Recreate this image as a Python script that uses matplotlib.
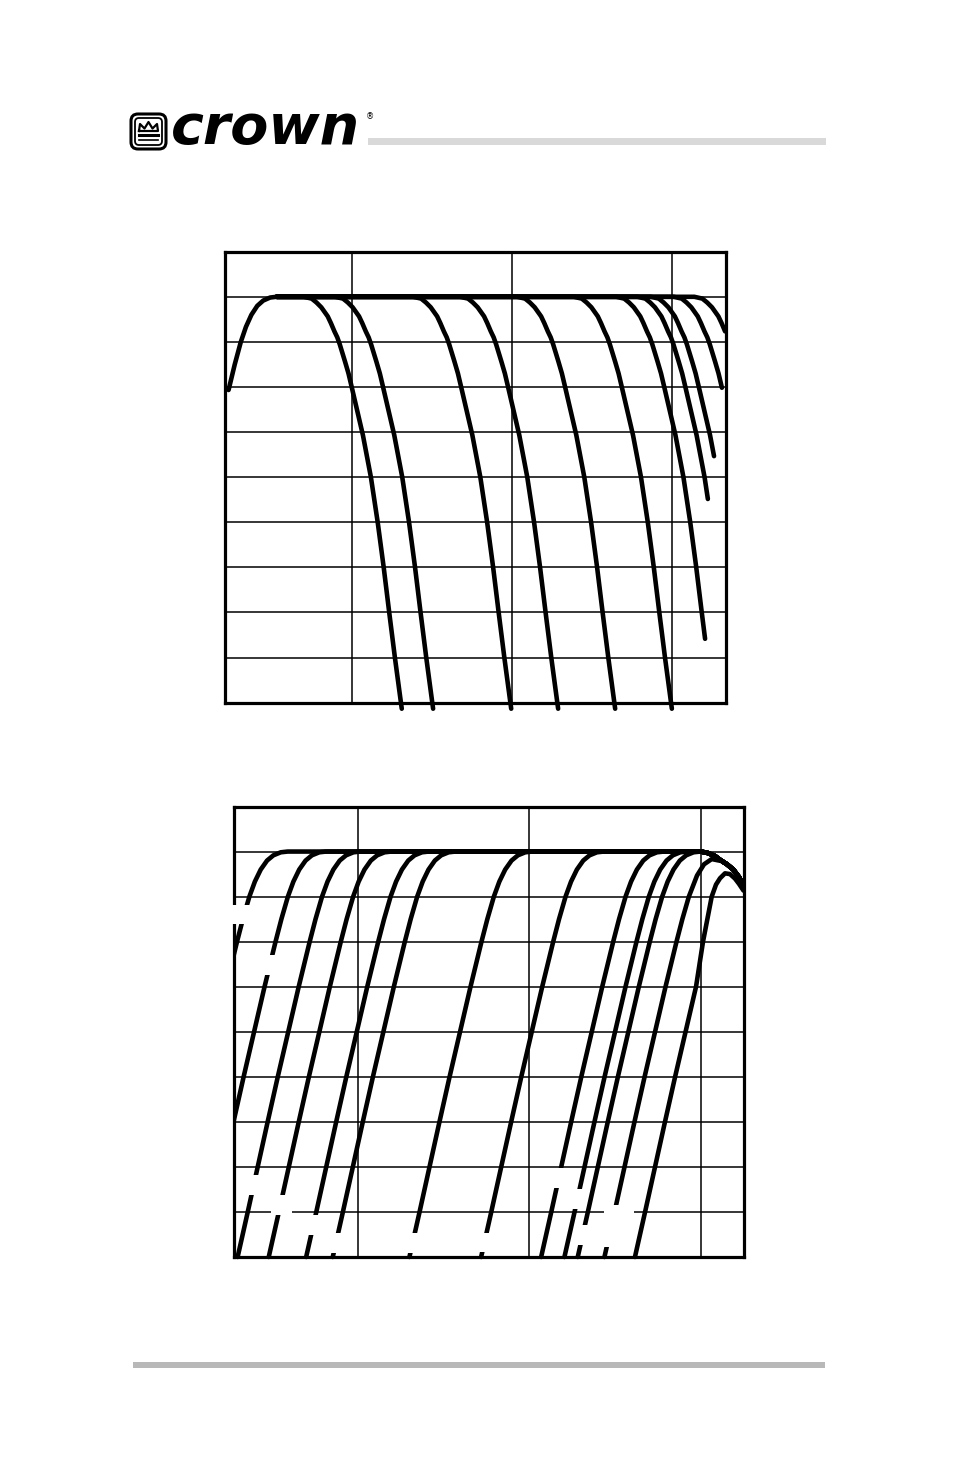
import numpy as np
import matplotlib
matplotlib.use("Agg")
import matplotlib.pyplot as plt
from matplotlib.patches import Rectangle, FancyBboxPatch
from matplotlib.ticker import FixedLocator, NullLocator

# ---------------- data ----------------
decade_grid = [100, 1000, 10000]                      # vertical grid (Hz)
level_grid = [-24, -21, -18, -15, -12, -9, -6, -3, 0]  # horizontal grid (dB)
level_limits = [-27, 3]

# upper chart (low-pass family)
top_xlim = [16.15, 21680]
# slope shape of the low-pass traces, read off the leftmost one:
# offset from the trace's -6 dB frequency (decades) and level (dB)
lp_shape_dec = [-0.30, -0.25, -0.22, -0.19, -0.15, -0.13, -0.108, -0.09, -0.075, -0.042,
                -0.02, 0.0, 0.035, 0.07, 0.12, 0.1625, 0.20, 0.2345, 0.27, 0.309, 0.34]
lp_shape_db = [0.0, -0.12, -0.38, -0.7, -1.3, -1.75, -2.3, -2.7, -3.15, -4.3,
               -5.1, -6.0, -7.6, -9.2, -12.0, -15.0, -18.0, -21.0, -24.0, -27.1, -29.5]
lp_f6 = [100, 157, 483, 949, 2156, 4875, 8979, 12170, 14770, 20540, 27640]
lp_end_db = [-27.4, -27.4, -27.4, -27.4, -27.4, -27.4, -22.75, -13.45, -10.6, -6.05, -2.3]
top_flat_from = 34.0            # Hz where the traces reach the 0 dB plateau
subsonic_f6 = 17.18             # Hz, low-frequency roll-off of the upper chart
subsonic_start = [17.0, -6.2]   # first point of that roll-off (Hz, dB)

# lower chart (high-pass family)
bot_xlim = [19.14, 17710]
hp_shape_db = [-27, -24, -21, -18, -15, -12, -9, -6, -4.5, -3, -2, -1.2, -0.6, -0.25, -0.05, 0]
hp_shape_dec = [-0.420, -0.361, -0.303, -0.245, -0.186, -0.125, -0.064, 0.0, 0.034,
                0.072, 0.104, 0.138, 0.175, 0.212, 0.255, 0.295]
hp_f6 = [19.8, 33.2, 52.5, 79.7, 131.7, 188.2, 526.5, 1378, 3083, 4214, 5038, 7209, 10855]
# shared high-frequency roll-off at the right of the lower chart
rolloff_f = [10014, 10999, 12083, 12924, 14196, 15445, 16672, 17710]
rolloff_db = [0.0, -0.1, -0.3, -0.55, -0.85, -1.2, -1.7, -2.3]
# the two highest high-pass traces peak below 0 dB
hump1_from_db = -3.0
hump1_f = [9490, 10425, 11560, 12750]
hump1_db = [-1.6, -0.85, -0.5, -0.6]
hump2_from_db = -9.0
hump2_f = [10287, 11560, 12246, 12924, 13818, 14772, 15800, 16672, 17710]
hump2_db = [-6.0, -3.0, -2.2, -1.78, -1.45, -1.5, -1.8, -2.15, -2.6]

# ---------------- figure ----------------
W, H = 954, 1475
fig = plt.figure(figsize=(W / 100, H / 100), dpi=100)
fig.patch.set_facecolor("white")


def px_axes(x0, y0, x1, y1, **kw):
    return fig.add_axes([x0 / W, 1 - y1 / H, (x1 - x0) / W, (y1 - y0) / H], **kw)


ax_top = px_axes(225, 251.7, 725.5, 702.7)
ax_bot = px_axes(234.5, 806.5, 743.5, 1257)

for ax, xl in ((ax_top, top_xlim), (ax_bot, bot_xlim)):
    ax.set_xscale("log")
    ax.set_xlim(xl)
    ax.set_ylim(level_limits)
    ax.xaxis.set_major_locator(FixedLocator(decade_grid))
    ax.xaxis.set_minor_locator(NullLocator())
    ax.yaxis.set_major_locator(FixedLocator(level_grid))
    ax.yaxis.set_minor_locator(NullLocator())
    ax.tick_params(which="both", length=0, labelbottom=False, labelleft=False)
    ax.grid(True, color="black", linewidth=1.1)
    ax.set_axisbelow(True)
    for s in ax.spines.values():
        s.set_linewidth(2.3)
        s.set_color("black")

LW = 3.3


def draw(ax, f, d):
    ln, = ax.plot(f, d, color="black", lw=LW, solid_capstyle="round",
                  solid_joinstyle="round", zorder=3)
    ln.set_clip_path(Rectangle((0, -0.04), 1, 1.08, transform=ax.transAxes))


# upper chart
o = np.array(lp_shape_dec)
d = np.array(lp_shape_db)
for f6, end in zip(lp_f6, lp_end_db):
    f = f6 * 10 ** o
    keep = (d > end) & (f > top_flat_from)
    f_end = f6 * 10 ** np.interp(end, d[::-1], o[::-1])
    draw(ax_top,
         np.concatenate([[top_flat_from], f[keep], [f_end]]),
         np.concatenate([[0.0], d[keep], [end]]))

ho = np.array(hp_shape_dec)
hd = np.array(hp_shape_db)
sel = hd >= -6
draw(ax_top,
     np.concatenate([[subsonic_start[0]], subsonic_f6 * 10 ** ho[sel]]),
     np.concatenate([[subsonic_start[1]], hd[sel]]))

# lower chart
rf = np.array(rolloff_f)
rd = np.array(rolloff_db)
n = len(hp_f6)
for i, f6 in enumerate(hp_f6):
    f = f6 * 10 ** ho
    if i == n - 2:
        k = hd <= hump1_from_db
        tail = rf > hump1_f[-1]
        fs = np.concatenate([f[k], hump1_f, rf[tail]])
        ds = np.concatenate([hd[k], hump1_db, rd[tail]])
    elif i == n - 1:
        k = hd <= hump2_from_db
        fs = np.concatenate([f[k], hump2_f])
        ds = np.concatenate([hd[k], hump2_db])
    else:
        fs = np.concatenate([f, rf])
        ds = np.concatenate([hd, rd])
    draw(ax_bot, fs, ds)

# ---------------- page decoration ----------------
deco = fig.add_axes([0, 0, 1, 1], zorder=10)
deco.set_xlim(0, W)
deco.set_ylim(H, 0)
deco.axis("off")
deco.patch.set_alpha(0)

# blanked label areas in the lower chart
for (x0, y0, x1, y1) in [(232, 905, 253, 924), (259, 955, 279, 975),
                         (244, 1175, 264, 1195), (271, 1195, 292, 1215),
                         (305, 1215, 324, 1235), (327, 1233, 346, 1253),
                         (402, 1233, 421, 1253), (478, 1233, 497, 1252),
                         (548, 1168, 566, 1188), (568, 1189, 586, 1209),
                         (574, 1225, 593, 1245), (604, 1205, 634, 1247)]:
    deco.add_patch(Rectangle((x0, y0), x1 - x0, y1 - y0, fc="white", ec="none"))

# header / footer rules
deco.add_patch(Rectangle((368, 138), 458, 7, fc="#d9d9d9", ec="none"))
deco.add_patch(Rectangle((133, 1362), 692, 6, fc="#b8b8b8", ec="none"))

# logo icon
deco.add_patch(FancyBboxPatch((131, 114), 35, 35, boxstyle="round,pad=0,rounding_size=7",
                              fc="white", ec="black", lw=2.2))
deco.add_patch(FancyBboxPatch((135, 118), 27, 27, boxstyle="round,pad=0,rounding_size=4",
                              fc="none", ec="black", lw=1.3))
deco.plot([139, 140, 144.5, 148.5, 152.5, 157, 158, 139],
          [131, 124, 128.5, 122, 128.5, 124, 131, 131], color="black", lw=1.6)
deco.plot([139, 158], [135, 135], color="black", lw=2.2)
deco.plot([139, 158], [139.5, 139.5], color="black", lw=1.2)

fig.text(171 / W, 1 - 144 / H, "crown", fontsize=40, fontweight="bold", style="italic",
         family="DejaVu Sans", va="baseline", ha="left")
fig.text(366 / W, 1 - 119 / H, "®", fontsize=6, va="baseline", ha="left")

fig.savefig("out.png", dpi=100, facecolor="white")
